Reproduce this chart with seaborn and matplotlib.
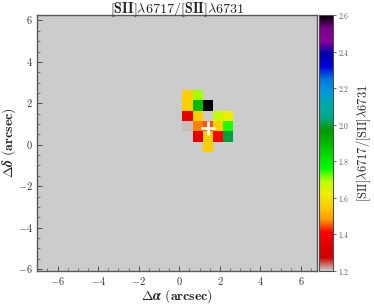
import numpy as np
import pandas as pd
import matplotlib
matplotlib.use('Agg')
import matplotlib.pyplot as plt
import seaborn as sns
from matplotlib.ticker import FixedLocator


# line ratio map, rows from top (dec = 2.65) downward, cols from ra = 0.15 upward
row_0 = [1.56, 1.70, np.nan, np.nan, np.nan]
row_1 = [1.56, 1.90, 2.60, np.nan, np.nan]
row_2 = [1.36, 1.56, np.nan, 1.68, 1.62]
row_3 = [1.21, 1.47, 1.45, 1.56, 1.75]
row_4 = [np.nan, 1.36, 1.56, 1.41, 2.00]
row_5 = [np.nan, np.nan, 1.56, np.nan, np.nan]

x0 = 0.15      # ra of left edge of first column
y_top = 2.65   # dec of top edge of first row
cell = 0.5     # arcsec per spaxel

centre = (1.39, 0.82)

major = [-6, -4, -2, 0, 2, 4, 6]
minor = list(np.arange(-7.0, 7.01, 0.5))
cbar_ticks = [1.2, 1.4, 1.6, 1.8, 2.0, 2.2, 2.4, 2.6]

ratio = pd.DataFrame([row_0, row_1, row_2, row_3, row_4, row_5])


def ix(a):
    return (a - x0) / cell


def iy(d):
    return (y_top - d) / cell


sns.set_style('ticks')
plt.rcParams['font.family'] = ['cmr10', 'DejaVu Serif']
plt.rcParams['mathtext.fontset'] = 'cm'
plt.rcParams['axes.formatter.use_mathtext'] = True
plt.rcParams['axes.unicode_minus'] = False

fig = plt.figure(figsize=(3.74, 3.05), dpi=100)
ax = fig.add_axes([0.0997, 0.1125, 0.7487, 0.8374])
cax = fig.add_axes([0.852, 0.1125, 0.0382, 0.8374])

sns.heatmap(data=ratio, ax=ax, cbar_ax=cax, cmap='nipy_spectral_r',
            vmin=1.2, vmax=2.6, cbar_kws={'ticks': cbar_ticks})

ax.set_facecolor((0.8, 0.8, 0.8))
ax.set_xlim(ix(-7.0), ix(6.8))
ax.set_ylim(iy(-6.08), iy(6.25))

ax.xaxis.set_major_locator(FixedLocator([ix(v) for v in major]))
ax.yaxis.set_major_locator(FixedLocator([iy(v) for v in major]))
ax.set_xticklabels([r'$%d$' % v for v in major], rotation=0)
ax.set_yticklabels([r'$%d$' % v for v in major], rotation=0)
ax.xaxis.set_minor_locator(FixedLocator([ix(v) for v in minor]))
ax.yaxis.set_minor_locator(FixedLocator([iy(v) for v in minor]))
ax.tick_params(which='both', direction='in', color='0.3', labelsize=7.5,
               labelcolor='0.2', pad=3)
ax.tick_params(which='major', length=3.5, width=0.7)
ax.tick_params(which='minor', length=2, width=0.5)

for s in ax.spines.values():
    s.set_visible(True)
    s.set_color('0.35')
    s.set_linewidth(1.0)

# marker at the continuum peak
ax.plot(ix(centre[0]), iy(centre[1]), marker='+', color='white',
        markersize=10, mew=2)

ax.set_xlabel(r'$\boldsymbol{\Delta\alpha}\ \mathbf{(arcsec)}$', fontsize=10, labelpad=0)
ax.set_ylabel(r'$\boldsymbol{\Delta\delta}\ \mathbf{(arcsec)}$', fontsize=10, labelpad=0)
ax.text(0.5, 1.008, r'$\mathbf{[SII]}\lambda\mathbf{6717/[SII]}\lambda\mathbf{6731}$',
        transform=ax.transAxes, ha='center', va='baseline', fontsize=10.2)

cb = ax.collections[0].colorbar
cb.outline.set_linewidth(0.8)
cb.outline.set_edgecolor('0.3')
cax.set_yticklabels([r'$%.1f$' % v for v in cbar_ticks])
cax.tick_params(labelsize=5.5, length=2.5, width=0.6, color='0.3',
                labelcolor='0.35', pad=1.5)
cb.set_label(r'$\mathrm{[SII]}\lambda\mathrm{6717/[SII]}\lambda\mathrm{6731}$',
             fontsize=9, labelpad=3)

fig.savefig('out.png', dpi=100)
